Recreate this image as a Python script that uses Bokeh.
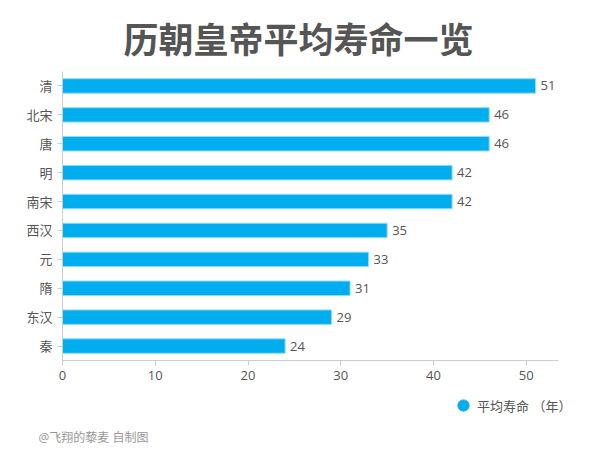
from bokeh.plotting import figure
from bokeh.models import (ColumnDataSource, FactorRange, Range1d, Legend, LegendItem,
                          FixedTicker, Title)
from bokeh.layouts import column
from bokeh.core.properties import value
from bokeh.embed import file_html
from bokeh.resources import INLINE

dynasties = ["清", "北宋", "唐", "明", "南宋", "西汉", "元", "隋", "东汉", "秦"]
lifespans = [51, 46, 46, 42, 42, 35, 33, 31, 29, 24]
x_ticks = [0, 10, 20, 30, 40, 50]
title_text = "历朝皇帝平均寿命一览"
legend_text = "平均寿命 （年）"
footer_text = "@飞翔的藜麦 自制图"

CJK = "'Open Sans', 'Noto Sans CJK SC', sans-serif"
BLUE = "#00AEEF"

src = ColumnDataSource(dict(dyn=dynasties, val=lifespans, lab=[str(v) for v in lifespans]))

p = figure(
    y_range=FactorRange(factors=list(reversed(dynasties))),
    x_range=Range1d(0, 58),
    frame_width=538, frame_height=289,
    min_border_left=62, min_border_right=0, min_border_top=71, min_border_bottom=32,
    output_backend="svg", toolbar_location=None,
)
p.outline_line_color = None
p.xgrid.visible = False
p.ygrid.visible = False
p.background_fill_color = "white"
p.border_fill_color = "white"

p.hbar(y="dyn", right="val", left=0, height=0.5, source=src,
       fill_color=BLUE, line_color="#8fdcf8", line_width=1)
p.text(x="val", y="dyn", text="lab", source=src, x_offset=5,
       text_baseline="middle", text_align="left",
       text_font_size="13px", text_color="#555555", text_font=value("Open Sans"))

for ax in (p.xaxis[0], p.yaxis[0]):
    ax.axis_line_color = "#cccccc"
    ax.major_tick_line_color = "#cccccc"
    ax.minor_tick_line_color = None
    ax.major_tick_in = 0
    ax.major_tick_out = 5
    ax.major_label_text_color = "#555555"
    ax.major_label_text_font_size = "13px"
    ax.major_label_text_font = CJK
    ax.major_label_standoff = 5
p.xaxis.ticker = FixedTicker(ticks=x_ticks)
p.xaxis.bounds = (0, 53.5)

p.title = Title(text=title_text, align="left", offset=61, standoff=18,
                text_font_size="35px", text_font_style="bold", text_color="#555555",
                text_font="'Noto Sans CJK SC', sans-serif")

# bottom strip: legend + credit line
q = figure(width=600, height=76, x_range=Range1d(0, 1), y_range=Range1d(0, 1),
           min_border=0, min_border_bottom=45, output_backend="svg", toolbar_location=None,
           x_axis_type=None, y_axis_type=None)
q.outline_line_color = None
q.xgrid.visible = False
q.ygrid.visible = False
q.border_fill_color = "white"
q.background_fill_color = "white"

proxy = q.scatter(x="val", y="val", source=src, marker="circle", size=11,
                  fill_color=BLUE, line_color=BLUE, visible=False)
legend = Legend(items=[LegendItem(label=legend_text, renderers=[proxy], index=0)],
                location=(387, 4), orientation="horizontal",
                padding=0, margin=0, glyph_width=28, glyph_height=28, label_standoff=-5,
                label_text_font_size="13px", label_text_color="#555555", label_text_font=CJK,
                label_height=16, border_line_color=None, background_fill_alpha=0)
q.add_layout(legend, "center")

footer = Title(text=footer_text, align="left", offset=-24, standoff=7,
               text_font_size="12px", text_font_style="normal", text_color="#999999",
               text_font=CJK)
q.add_layout(footer, "below")

layout = column(p, q, spacing=0)
open("out.html", "w").write(file_html(layout, INLINE))
